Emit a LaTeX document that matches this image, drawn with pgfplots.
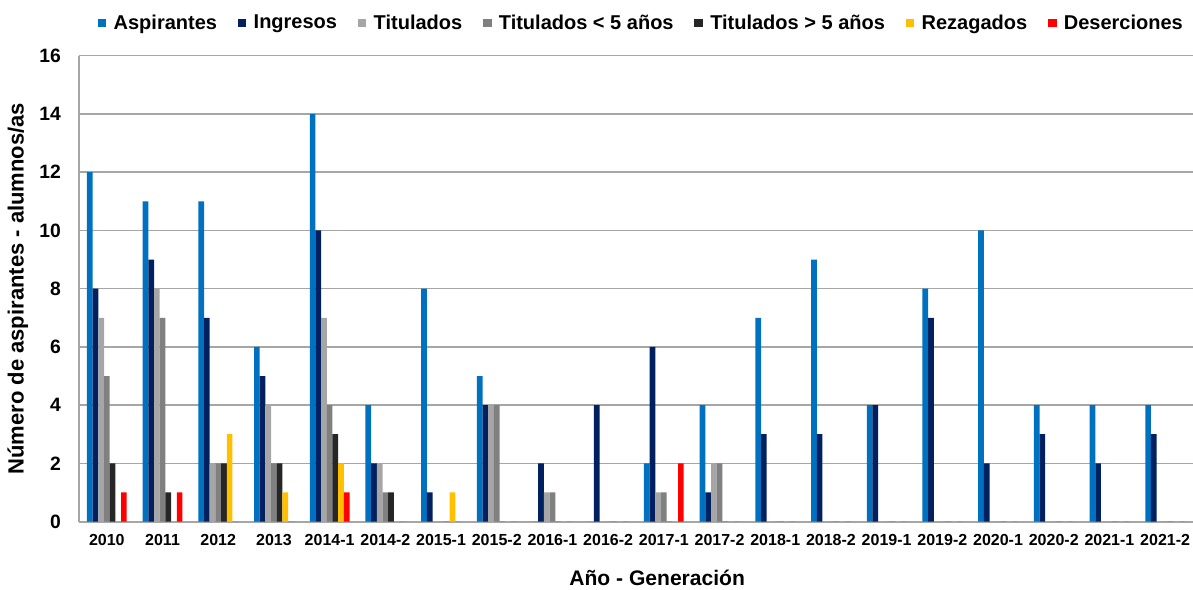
\documentclass[border=0pt]{standalone}
\usepackage{pgfplots}
\pgfplotsset{compat=1.18}
\usepackage{pgfplotstable}
\usepackage{fontspec}
\setmainfont{Liberation Sans}
\definecolor{cAsp}{HTML}{0070C0}
\definecolor{cIng}{HTML}{002060}
\definecolor{cTit}{HTML}{A6A6A6}
\definecolor{cTm}{HTML}{808080}
\definecolor{cTp}{HTML}{262626}
\definecolor{cRez}{HTML}{FFC000}
\definecolor{cDes}{HTML}{FF0000}
\definecolor{cGrid}{HTML}{A6A6A6}
\pgfplotstableread{
x asp ing tit tm tp rez des
0 12 8 7 5 2 0 1
1 11 9 8 7 1 0 1
2 11 7 2 2 2 3 0
3 6 5 4 2 2 1 0
4 14 10 7 4 3 2 1
5 4 2 2 1 1 0 0
6 8 1 0 0 0 1 0
7 5 4 4 4 0 0 0
8 0 2 1 1 0 0 0
9 0 4 0 0 0 0 0
10 2 6 1 1 0 0 2
11 4 1 2 2 0 0 0
12 7 3 0 0 0 0 0
13 9 3 0 0 0 0 0
14 4 4 0 0 0 0 0
15 8 7 0 0 0 0 0
16 10 2 0 0 0 0 0
17 4 3 0 0 0 0 0
18 4 2 0 0 0 0 0
19 4 3 0 0 0 0 0
}\datatable
\begin{document}
\begin{tikzpicture}
\begin{axis}[
  scale only axis,
  width=835.5pt, height=349.4pt,
  ybar=0pt, bar width=0.102,
  xmin=-0.5, xmax=19.5,
  ymin=0, ymax=16,
  ytick={0,2,...,16},
  xtick={0,...,19},
  xticklabels={2010,2011,2012,2013,2014-1,2014-2,2015-1,2015-2,2016-1,2016-2,2017-1,2017-2,2018-1,2018-2,2019-1,2019-2,2020-1,2020-2,2021-1,2021-2},
  axis x line*=bottom, axis y line*=left,
  axis line style={draw=cGrid, line width=1.6pt},
  x axis line style={-}, y axis line style={-},
  major tick length=0pt,
  ymajorgrids, grid style={draw=cGrid, line width=1.1pt},
  /pgf/number format/assume math mode=true,
  yticklabel style={font=\fontsize{14.5}{16}\selectfont\bfseries, xshift=-10pt},
  xticklabel style={font=\fontsize{12}{14}\selectfont\bfseries, yshift=-6pt},
  every axis y label/.style={at={(axis description cs:-0.0548,0.5)}, rotate=90, anchor=center, font=\fontsize{16.5}{18}\selectfont\bfseries},
  every axis x label/.style={at={(axis description cs:0.519,-0.121)}, anchor=center, font=\fontsize{15.8}{18}\selectfont\bfseries},
  ylabel={Número de aspirantes - alumnos/as},
  xlabel={Año - Generación},
  legend columns=7,
  legend style={at={(0.505,1.070)}, anchor=center, draw=none, fill=none,
    font=\fontsize{15}{18}\selectfont\bfseries,
    /tikz/every odd column/.append style={column sep=3.5pt},
    /tikz/every even column/.append style={column sep=13.5pt},
    inner sep=0pt},
  legend image code/.code={\fill[#1] (0pt,-3.2pt) rectangle (6.5pt,3.2pt);},
  every axis plot/.append style={draw=none},
]
\addplot[fill=cAsp] table[x=x,y=asp]{\datatable};
\addplot[fill=cIng] table[x=x,y=ing]{\datatable};
\addplot[fill=cTit] table[x=x,y=tit]{\datatable};
\addplot[fill=cTm] table[x=x,y=tm]{\datatable};
\addplot[fill=cTp] table[x=x,y=tp]{\datatable};
\addplot[fill=cRez] table[x=x,y=rez]{\datatable};
\addplot[fill=cDes] table[x=x,y=des]{\datatable};
\legend{Aspirantes,Ingresos,Titulados,Titulados < 5 años,Titulados > 5 años,Rezagados,Deserciones}
\end{axis}
\pgfresetboundingbox
\path[use as bounding box] (-59.25pt,-50.6pt) rectangle (835.5pt,391.2pt);
\end{tikzpicture}
\end{document}
